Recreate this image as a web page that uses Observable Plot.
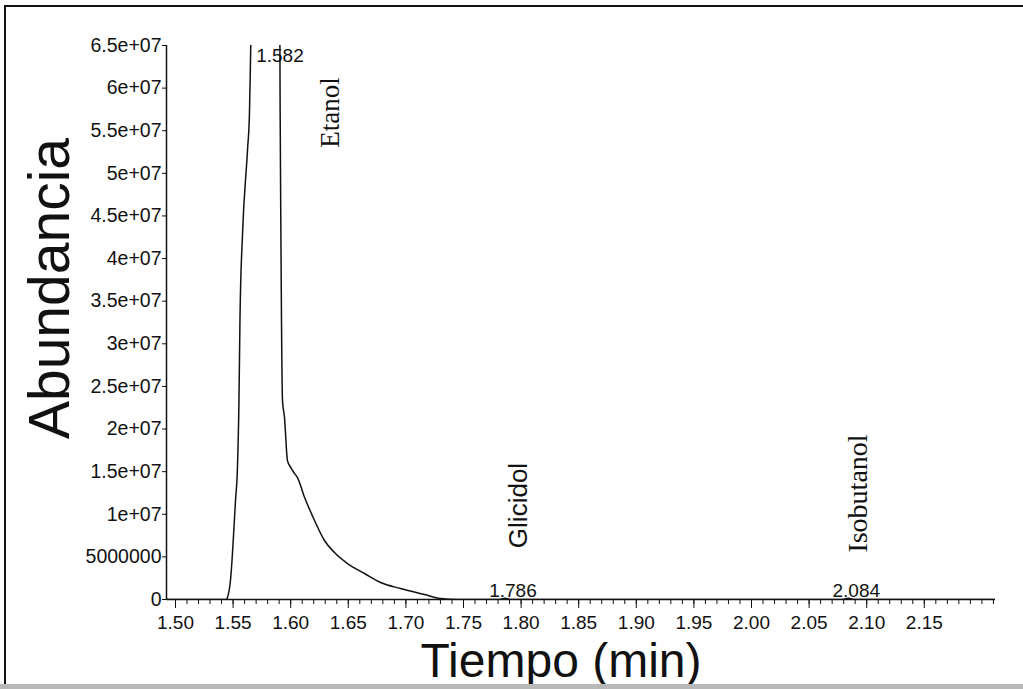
<!DOCTYPE html>
<html>
<head>
<meta charset="utf-8">
<script src="https://cdn.jsdelivr.net/npm/d3@7"></script>
<script src="https://cdn.jsdelivr.net/npm/@observablehq/plot@0.6"></script>
<style>
  html, body { margin: 0; padding: 0; background: #fff; }
  #wrap { position: relative; width: 1023px; height: 689px; overflow: hidden; background: #fff; }
  #frame { position: absolute; left: 4px; top: 5px; width: 1040px; height: 700px;
           border-left: 2px solid #111; border-top: 2px solid #111; pointer-events: none; }
  #bottom { position: absolute; left: 0; top: 684px; width: 1023px; height: 5px; background: #b8b8b8; }
  svg { display: block; }
</style>
</head>
<body>
<div id="wrap"><div id="chart"></div><div id="frame"></div><div id="bottom"></div></div>
<script>
// Chromatogram trace (time in min, abundance)
const time = [1.4922, 1.5440, 1.5451, 1.5477, 1.5521, 1.5538, 1.5551, 1.5560, 1.5582, 1.5625, 1.5642, 1.5651, 1.5660,
  1.5820,
  1.5905, 1.5908, 1.5915, 1.5920, 1.5929, 1.5946, 1.5972, 1.6000, 1.6033, 1.6059, 1.6120, 1.6207, 1.6293, 1.6380,
  1.6493, 1.6641, 1.6780, 1.6953, 1.7161, 1.7300, 1.7448, 1.7800, 1.7860, 1.7920, 2.0780, 2.0840, 2.0900, 2.2118];
const abundance = [0, 0, 2.3e5, 2.2e6, 1.16e7, 1.55e7, 2.33e7, 3.31e7, 4.29e7, 5.27e7, 5.70e7, 6.32e7, 7.0e7,
  1.6e8,
  7.0e7, 5.85e7, 4.29e7, 3.31e7, 2.33e7, 2.14e7, 1.63e7, 1.55e7, 1.48e7, 1.43e7, 1.20e7, 9.27e6, 6.92e6, 5.51e6,
  4.22e6, 3.05e6, 1.99e6, 1.29e6, 5.9e5, 1.2e5, 0, 0, 1.5e5, 0, 0, 1.5e5, 0, 0];

// Peaks
const peakTimes = [1.582, 1.786, 2.084];
const peakLabels = ["1.582", "1.786", "2.084"];
const peakNames = ["Etanol", "Glicidol", "Isobutanol"];

// Axes
const yTicks = [0, 5e6, 1e7, 1.5e7, 2e7, 2.5e7, 3e7, 3.5e7, 4e7, 4.5e7, 5e7, 5.5e7, 6e7, 6.5e7];
const yTickLabels = ["0", "5000000", "1e+07", "1.5e+07", "2e+07", "2.5e+07", "3e+07", "3.5e+07", "4e+07",
  "4.5e+07", "5e+07", "5.5e+07", "6e+07", "6.5e+07"];
const xTicks = [1.50, 1.55, 1.60, 1.65, 1.70, 1.75, 1.80, 1.85, 1.90, 1.95, 2.00, 2.05, 2.10, 2.15];
const xTickLabels = ["1.50", "1.55", "1.60", "1.65", "1.70", "1.75", "1.80", "1.85", "1.90", "1.95",
  "2.00", "2.05", "2.10", "2.15"];
const xMinorTicks = d3.range(150, 222).map(d => d / 100);
const xLabel = "Tiempo (min)";
const yLabel = "Abundancia";
const xDomain = [1.4922, 2.2118];
const yDomain = [0, 6.5e7];

const trace = time.map((t, i) => ({t, v: abundance[i]}));
const peaks = peakTimes.map((t, i) => ({t, label: peakLabels[i], name: peakNames[i]}));
const yFmt = new Map(yTicks.map((d, i) => [d, yTickLabels[i]]));
const xFmt = new Map(xTicks.map((d, i) => [d, xTickLabels[i]]));

const sans = "'Liberation Sans', Arial, Helvetica, sans-serif";
const serif = "'Liberation Serif', 'Times New Roman', serif";

const chart = Plot.plot({
  width: 1023,
  height: 689,
  marginLeft: 166,
  marginRight: 28,
  marginTop: 45,
  marginBottom: 90,
  x: {domain: xDomain},
  y: {domain: yDomain},
  style: {fontFamily: sans, background: "transparent", color: "#111"},
  marks: [
    Plot.axisY(yTicks, {tickSize: 4, tickPadding: 1, fontSize: 19.5, tickFormat: d => yFmt.get(d), label: null, stroke: "#111"}),
    Plot.axisX(xMinorTicks, {tickSize: 5, fill: "none", label: null, stroke: "#111"}),
    Plot.axisX(xTicks, {tickSize: 9, tickPadding: 7, fontSize: 19, tickFormat: d => xFmt.get(d), label: null, stroke: "#111"}),
    Plot.ruleX([xDomain[0]], {stroke: "#111", strokeWidth: 1.5}),
    Plot.ruleY([0], {stroke: "#111", strokeWidth: 1.5}),
    Plot.line(trace, {x: "t", y: "v", stroke: "#111", strokeWidth: 1.5, curve: "monotone-x", clip: true}),
    // retention time labels
    Plot.text(peaks.slice(0, 1), {x: "t", y: () => yDomain[1], text: "label", dx: 10, dy: 10, fontSize: 19, fill: "#111"}),
    Plot.text(peaks.slice(1), {x: "t", y: () => 0, text: "label", dx: 8, dy: -9, fontSize: 19, fill: "#111"}),
    // compound names
    Plot.text(peaks.slice(0, 1), {x: "t", y: () => yDomain[1], text: "name", rotate: -90, dx: 60, dy: 67, fontSize: 27, fontFamily: serif, fill: "#111"}),
    Plot.text(peaks.slice(1, 2), {x: "t", y: () => 0, text: "name", rotate: -90, dx: 14, dy: -94, fontSize: 26, fontFamily: sans, fill: "#111"}),
    Plot.text(peaks.slice(2, 3), {x: "t", y: () => 0, text: "name", rotate: -90, dx: 10, dy: -106, fontSize: 28, fontFamily: serif, fill: "#111"}),
    // axis titles
    Plot.text([yLabel], {frameAnchor: "left", textAnchor: "middle", lineAnchor: "middle", text: d => d, rotate: -90, dx: -116, dy: -34, fontSize: 57, fill: "#111"}),
    Plot.text([xLabel], {frameAnchor: "bottom", textAnchor: "middle", lineAnchor: "middle", text: d => d, dx: -20, dy: 62, fontSize: 48, fill: "#111"})
  ]
});
document.getElementById("chart").appendChild(chart);
</script>
</body>
</html>
